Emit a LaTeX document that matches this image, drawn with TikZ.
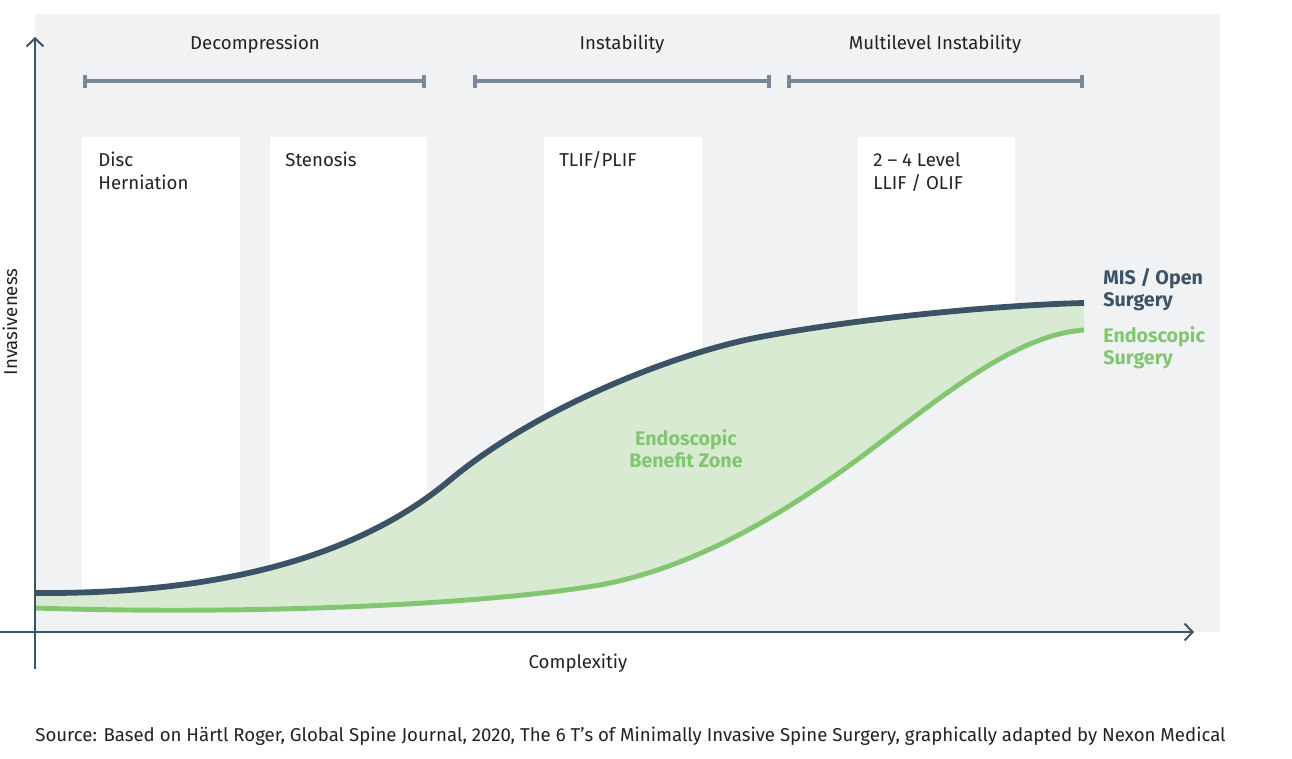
\documentclass[tikz,border=0pt]{standalone}
\usepackage{fontspec}
\setmainfont{Fira Sans}
\usetikzlibrary{arrows.meta,positioning}

\definecolor{panelgrey}{HTML}{F1F2F4}
\definecolor{barblue}{HTML}{7A8999}
\definecolor{navy}{HTML}{3C5266}
\definecolor{leaf}{HTML}{82C672}
\definecolor{leaflight}{HTML}{D8EBD2}
\definecolor{ink}{HTML}{222222}

\begin{document}
\begin{tikzpicture}[
      x=0.02cm, y=-0.02cm,
      font=\fontsize{10.6}{13}\selectfont, text=ink,
      col/.style={fill=white},
      lbl/.style={anchor=base west, align=left, inner sep=0pt},
      hd/.style={anchor=base, inner sep=0pt},
      span/.style={draw=barblue, line width=2.2pt,
        {Bar[width=7.4pt]}-{Bar[width=7.4pt]}},
      axis/.style={draw=navy, line width=1.1pt,
        -{Straight Barb[length=4.6pt, width=9.6pt, line width=1.1pt]}},
      mis/.style={draw=navy, line width=3.3pt},
      endo/.style={draw=leaf, line width=2.8pt},
      key/.style={anchor=base west, align=left, inner sep=0pt,
        font=\fontsize{11.2}{12.5}\selectfont\bfseries},
    ]
    \useasboundingbox (0,0) rectangle (1292,758);
    % panel and columns
    \fill[panelgrey] (35,14) rectangle (1220,632);
    \fill[col] (82,137) rectangle (240,632);
    \fill[col] (270,137) rectangle (427,632);
    \fill[col] (544,137) rectangle (702,632);
    \fill[col] (858,137) rectangle (1015,632);
    % below the endoscopic curve
    \fill[panelgrey] (35,608) .. controls (250,615) and (480,605) .. (600,585)
      .. controls (680,570) and (760,530) .. (850,465)
      .. controls (930,407) and (1010,335) .. (1084,330)
      -- (1084,632) -- (35,632) -- cycle;
    % benefit zone
    \fill[leaflight] (35,593) .. controls (180,594) and (340,572) .. (450,480)
      .. controls (540,405) and (680,352) .. (760,337)
      .. controls (860,318) and (1000,305) .. (1084,303)
      -- (1084,330) .. controls (1010,335) and (930,407) .. (850,465)
      .. controls (760,530) and (680,570) .. (600,585)
      .. controls (480,605) and (250,615) .. (35,608) -- cycle;
    % curves
    \draw[endo] (35,608) .. controls (250,615) and (480,605) .. (600,585)
      .. controls (680,570) and (760,530) .. (850,465)
      .. controls (930,407) and (1010,335) .. (1084,330);
    \draw[mis] (35,593) .. controls (180,594) and (340,572) .. (450,480)
      .. controls (540,405) and (680,352) .. (760,337)
      .. controls (860,318) and (1000,305) .. (1084,303);

    % axes
    \coordinate (yfoot) at (35,669);
    \coordinate (ytip) at (35,37);
    \coordinate (xfoot) at (0,632);
    \coordinate (xtip) at (1194,632);
    \draw[axis] (yfoot) -- (ytip);
    \draw[axis] (xfoot) -- (xtip);
    \node[rotate=90, inner sep=0pt] (ylab) at (10,322) {Invasiveness};
    \node[hd] (xlab) at (578,668) {Complexitiy};

    % phase brackets
    \coordinate (decA) at (83,81);  \coordinate (decB) at (426,81);
    \coordinate (insA) at (473,81); \coordinate (insB) at (771,81);
    \coordinate (mulA) at (787,81); \coordinate (mulB) at (1084,81);
    \draw[span] (decA) -- (decB);
    \draw[span] (insA) -- (insB);
    \draw[span] (mulA) -- (mulB);
    \node[hd] (hdDecomp) at (255,49) {Decompression};
    \node[hd] (hdInstab) at (622,49) {Instability};
    \node[hd] (hdMulti) at (935,49) {Multilevel Instability};

    % procedures (base = last line)
    \node[lbl] (disc) at (98,189) {Disc\\Herniation};
    \node[lbl] (sten) at (285,166) {Stenosis};
    \node[lbl] (tlif) at (559,166) {TLIF/PLIF};
    \node[lbl] (llif) at (873,189) {2 -- 4 Level\\LLIF / OLIF};

    % curve keys
    \node[key, text=navy] (misKey) at (1103,306) {MIS / Open\\Surgery};
    \node[key, text=leaf] (endoKey) at (1103,364) {Endoscopic\\Surgery};
    \node[key, text=leaf, anchor=base, align=center] (zone) at (686,467) {Endoscopic\\Benefit Zone};

    \node[lbl] (src) at (35,741) {Source: Based on Härtl Roger, Global Spine Journal, 2020, The 6 T's of Minimally Invasive Spine Surgery, graphically adapted by Nexon Medical};
  \end{tikzpicture}
\end{document}
